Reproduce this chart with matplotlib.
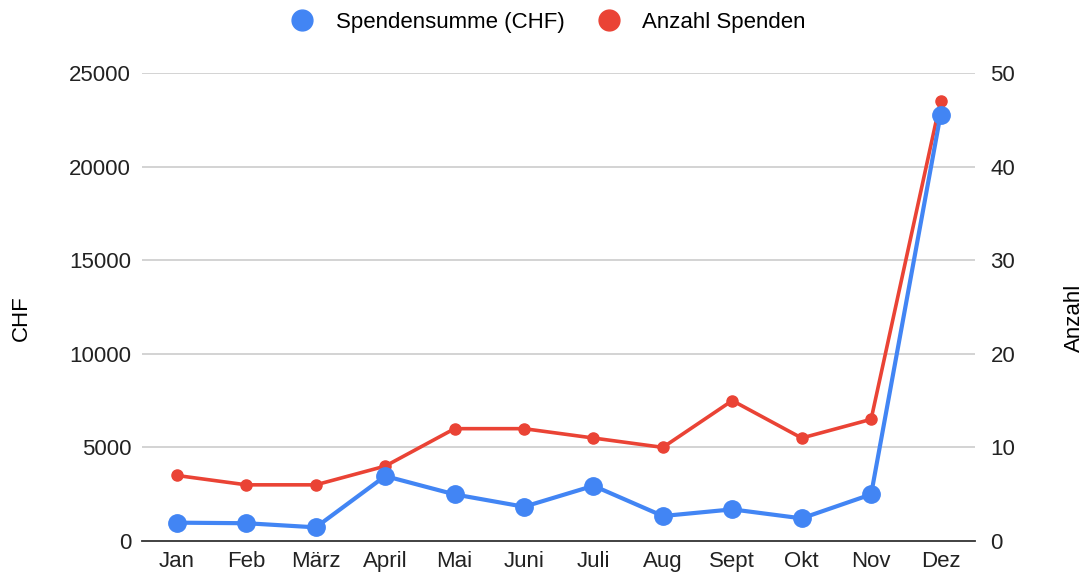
import matplotlib.pyplot as plt
import numpy as np

months = ['Jan', 'Feb', 'März', 'April', 'Mai', 'Juni', 'Juli', 'Aug',
          'Sept', 'Okt', 'Nov', 'Dez']
summe_chf = [980, 950, 730, 3470, 2490, 1830, 2950, 1335, 1690, 1210, 2490, 22760]
anzahl = [7, 6, 6, 8, 12, 12, 11, 10, 15, 11, 13, 47]

blue = '#4285F4'
red = '#EA4335'
plt.rcParams['font.family'] = ['Liberation Sans', 'DejaVu Sans']
fs = 16

fig = plt.figure(figsize=(10.86, 5.79), dpi=100)
ax = fig.add_axes([0.131, 0.0656, 0.767, 0.8085])
ax2 = ax.twinx()

x = np.arange(len(months))
ax2.plot(x, anzahl, color=red, lw=2.6, marker='o', ms=8, label='Anzahl Spenden')
ax.plot(x, summe_chf, color=blue, lw=3, marker='o', ms=12.5,
        label='Spendensumme (CHF)')
ax.set_zorder(ax2.get_zorder() + 1)
ax.patch.set_visible(False)

ax.set_xlim(-0.5, 11.5)
ax.set_ylim(0, 25000)
ax2.set_ylim(0, 50)
ax.set_yticks(np.arange(0, 25001, 5000))
ax2.set_yticks(np.arange(0, 51, 10))
ax.set_xticks(x)
ax.set_xticklabels(months)

for a in (ax, ax2):
    for s in a.spines.values():
        s.set_visible(False)
    a.tick_params(length=0, labelsize=fs, colors='#222222')
ax.tick_params(axis='x', pad=7)
ax.tick_params(axis='y', pad=8)
ax2.tick_params(axis='y', pad=11)
ax.spines['bottom'].set_visible(True)
ax.spines['bottom'].set_color('#333333')
ax.spines['bottom'].set_linewidth(1.3)

for v in np.arange(5000, 25001, 5000):
    ax2.axhline(v / 500, color='#CCCCCC', lw=1.2, zorder=0)

ax.set_ylabel('CHF', fontsize=fs)
ax2.set_ylabel('Anzahl', fontsize=fs, rotation=90)
ax.yaxis.set_label_coords(-0.133, 0.476)
ax2.yaxis.set_label_coords(1.107, 0.476)

l1 = ax.get_legend_handles_labels()[1]
l2 = ax2.get_legend_handles_labels()[1]
handles = [plt.Line2D([], [], ls='', marker='o', ms=15, color=blue),
           plt.Line2D([], [], ls='', marker='o', ms=15, color=red)]
fig.legend(handles, l1 + l2, loc='center', bbox_to_anchor=(0.5, 0.962),
           ncol=2, frameon=False, fontsize=fs, handletextpad=0.5,
           columnspacing=1.0)

fig.savefig('out.png', dpi=100)
